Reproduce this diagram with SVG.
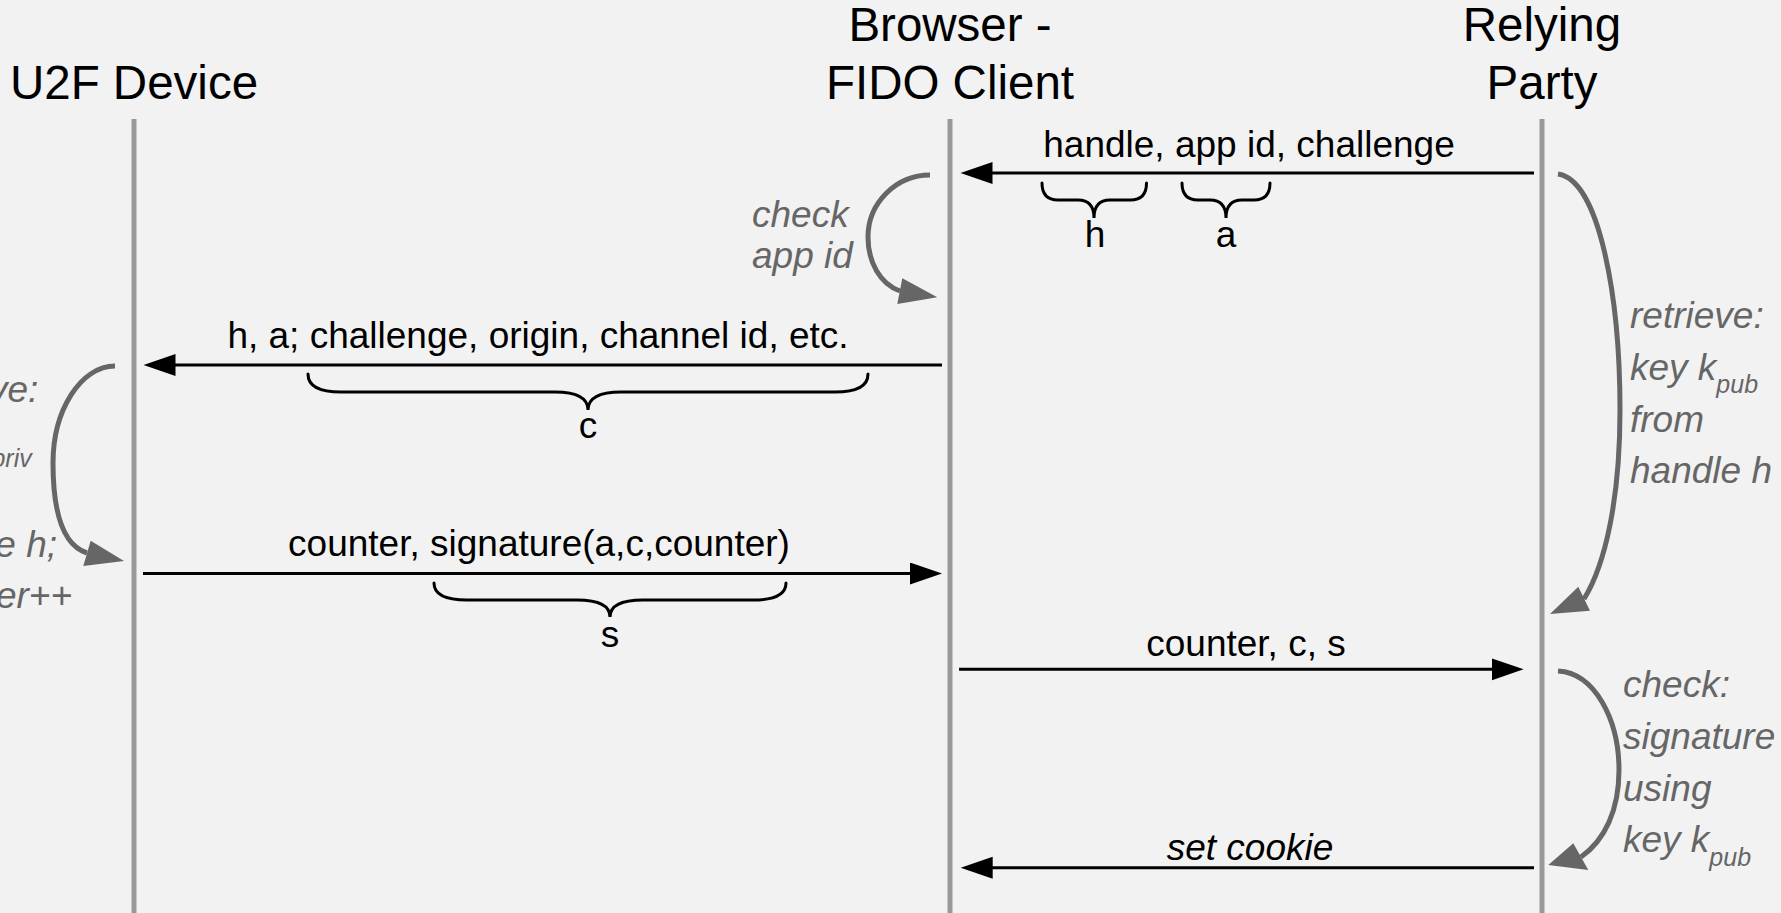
<svg xmlns="http://www.w3.org/2000/svg" width="1781" height="913" viewBox="0 0 1781 913">
<style>
text{font-family:"Liberation Sans",Arial,sans-serif;}
.hdr{font-size:47.5px;fill:#000;text-anchor:middle;}
.msg{font-size:37px;fill:#000;text-anchor:middle;}
.note{font-size:37px;fill:#666;font-style:italic;}
.sub{font-size:25px;}
.life{stroke:#999;stroke-width:5;fill:none;}
.arr{stroke:#000;stroke-width:3;fill:none;marker-end:url(#ah);}
.brace{stroke:#000;stroke-width:3;fill:none;stroke-linecap:round;}
.loop{stroke:#666;stroke-width:5;fill:none;}
.loophead{fill:#666;}
</style>
<defs>
<marker id="ah" markerUnits="userSpaceOnUse" markerWidth="34" markerHeight="24" refX="22" refY="11" orient="auto">
<path d="M0,0 L32,11 L0,22 z" fill="#000"/>
</marker>
</defs>
<rect x="0" y="0" width="1781" height="913" fill="#f2f2f2"/>

<g id="u2f-device">
<text class="hdr" x="134" y="99">U2F Device</text>
<line class="life" x1="134" y1="119" x2="134" y2="913"/>
</g>
<g id="browser-fido-client">
<text class="hdr" x="950" y="41">Browser -</text>
<text class="hdr" x="950" y="99">FIDO Client</text>
<line class="life" x1="950" y1="119" x2="950" y2="913"/>
</g>
<g id="relying-party">
<text class="hdr" x="1542" y="41">Relying</text>
<text class="hdr" x="1542" y="99">Party</text>
<line class="life" x1="1542" y1="119" x2="1542" y2="913"/>
</g>

<g id="connectors">
<line class="arr" x1="1534" y1="173" x2="970.5" y2="173"/>
<text class="msg" x="1249" y="157">handle, app id, challenge</text>
<line class="arr" x1="942" y1="365" x2="153.5" y2="365"/>
<text class="msg" x="538" y="348">h, a; challenge, origin, channel id, etc.</text>
<line class="arr" x1="143" y1="573.5" x2="932" y2="573.5"/>
<text class="msg" x="539" y="556">counter, signature(a,c,counter)</text>
<line class="arr" x1="959" y1="669.3" x2="1513.6" y2="669.3"/>
<text class="msg" x="1246" y="656">counter, c, s</text>
<line class="arr" x1="1534" y1="867.7" x2="970.7" y2="867.7"/>
<text class="msg" x="1250" y="860" font-style="italic">set cookie</text>

<path class="loop" d="M930,175 C896,175 868,203 868,237 C868,262 880,284 900,291"/>
<polygon class="loophead" points="937.3,297.3 902.3,278.3 897.3,304"/>
<path class="loop" d="M115,366 C81,366 53,410 53,463 C53,510 62,545 87,553"/>
<polygon class="loophead" points="124,561 90.7,540.7 83.3,566"/>
<path class="loop" d="M1558,174 C1600,180 1620,300 1620,410 C1620,500 1605,565 1584,599"/>
<polygon class="loophead" points="1550,614 1578.3,586.7 1590,610.7"/>
<path class="loop" d="M1558,671 C1595,673 1619,720 1619,770 C1619,810 1605,840 1581,857"/>
<polygon class="loophead" points="1548.3,865 1573.3,843.3 1588.3,870"/>
</g>

<g id="braces">
<path class="brace" d="M1042,183 Q1042,200 1058,200 L1078,200 Q1094,200 1094,218 Q1094,200 1110,200 L1130.5,200 Q1146.5,200 1146.5,183"/>
<text class="msg" x="1095" y="247">h</text>
<path class="brace" d="M1182,183 Q1182,200 1198,200 L1210,200 Q1226,200 1226,218 Q1226,200 1242,200 L1254,200 Q1270,200 1270,183"/>
<text class="msg" x="1226" y="247">a</text>
<path class="brace" d="M308,374 Q308,392 341,392 L555,392 Q588,392 588,410 Q588,392 621,392 L835,392 Q868,392 868,374"/>
<text class="msg" x="588" y="438">c</text>
<path class="brace" d="M434,583 Q434,600 467,600 L577,600 Q610,600 610,617 Q610,600 643,600 L753,600 Q786,600 786,583"/>
<text class="msg" x="610" y="647">s</text>
</g>

<g id="notes">
<text class="note" x="752" y="227">check</text>
<text class="note" x="752" y="268">app id</text>
<text class="note" x="-11" y="402">ve:</text>
<text class="note sub" x="-8.6" y="467">priv</text>
<text class="note" x="-4.7" y="557">e h;</text>
<text class="note" x="-4.1" y="608">er++</text>
<text class="note" x="1630" y="328">retrieve:</text>
<text class="note" x="1630" y="380">key k<tspan class="sub" dy="13">pub</tspan></text>
<text class="note" x="1630" y="432">from</text>
<text class="note" x="1630" y="483">handle h</text>
<text class="note" x="1623" y="697">check:</text>
<text class="note" x="1623" y="749">signature</text>
<text class="note" x="1623" y="801">using</text>
<text class="note" x="1623" y="852">key k<tspan class="sub" dy="14">pub</tspan></text>
</g>
</svg>
